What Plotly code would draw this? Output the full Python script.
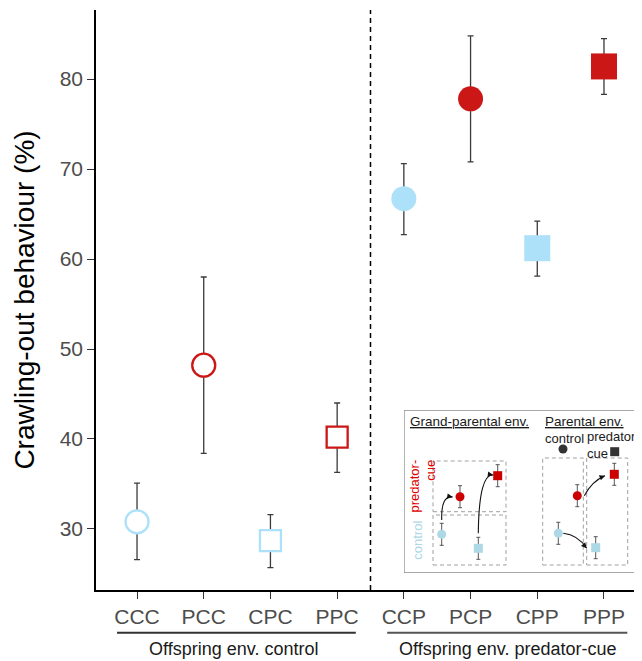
import plotly.graph_objects as go

# ---------------- main data ----------------
categories = ["CCC", "PCC", "CPC", "PPC", "CCP", "PCP", "CPP", "PPP"]
means = [30.8, 48.2, 28.7, 40.2, 66.7, 77.8, 61.2, 81.4]
upper = [35.1, 58.0, 31.6, 44.0, 70.6, 84.8, 64.2, 84.5]
lower = [26.6, 38.4, 25.7, 36.3, 62.7, 70.8, 58.1, 78.3]
symbols = ["circle", "circle", "square", "square", "circle", "circle", "square", "square"]
filled = [False, False, False, False, True, True, True, True]
colours = ["#ADE0F9", "#CC1717", "#ADE0F9", "#CC1717", "#ADE0F9", "#CC1717", "#ADE0F9", "#CC1717"]
y_ticks = [30, 40, 50, 60, 70, 80]
group_labels = ["Offspring env. control", "Offspring env. predator-cue"]

# ---------------- inset (schematic) data ----------------
inset_gp_x = [37.7, 56.0, 74.3, 93.7]
inset_gp_y = [38.7, 76.3, 24.7, 97.3]
inset_p_x = [154.3, 173.3, 191.7, 210.3]
inset_p_y = [39.7, 77.3, 25.3, 98.7]
inset_err = [11, 11, 11, 11]
inset_symbols = ["circle", "circle", "square", "square"]
inset_colours = ["#ADD8E6", "#CC0000", "#ADD8E6", "#CC0000"]

FONT = "Liberation Sans, Arial, sans-serif"

fig = go.Figure()

xpos = list(range(1, len(categories) + 1))
for i, cat in enumerate(categories):
    if filled[i]:
        size = 25 if symbols[i] == "circle" else 26
        marker = dict(symbol=symbols[i], size=size, color=colours[i], line=dict(width=0))
    else:
        size = 23 if symbols[i] == "circle" else 21
        marker = dict(symbol=symbols[i], size=size, color="white",
                      line=dict(width=2.3, color=colours[i]))
    fig.add_trace(go.Scatter(
        x=[xpos[i]], y=[means[i]], mode="markers", marker=marker,
        error_y=dict(type="data", symmetric=False,
                     array=[upper[i] - means[i]], arrayminus=[means[i] - lower[i]],
                     color="#3a3a3a", thickness=1.3, width=3),
        showlegend=False, hoverinfo="skip", cliponaxis=False,
    ))

# inset traces
for xs, ys in [(inset_gp_x, inset_gp_y), (inset_p_x, inset_p_y)]:
    for j in range(4):
        fig.add_trace(go.Scatter(
            x=[xs[j]], y=[ys[j]], mode="markers", xaxis="x2", yaxis="y2",
            marker=dict(symbol=inset_symbols[j], size=9, color=inset_colours[j], line=dict(width=0)),
            error_y=dict(type="data", array=[inset_err[j]], color="#555555", thickness=1, width=2),
            showlegend=False, hoverinfo="skip",
        ))

# legend key markers in inset
fig.add_trace(go.Scatter(x=[159, 210.7], y=[124, 121.3], mode="markers", xaxis="x2", yaxis="y2",
                         marker=dict(symbol=["circle", "square"], size=9, color="#333333"),
                         showlegend=False, hoverinfo="skip"))

shapes = []
# dashed divider
shapes.append(dict(type="line", xref="x", yref="paper", x0=4.5, x1=4.5, y0=0, y1=1,
                   line=dict(color="black", width=1.5, dash="5px,4px")))
# group underlines
shapes.append(dict(type="line", xref="x", yref="paper", x0=0.7, x1=4.28, y0=-0.0736, y1=-0.0736,
                   line=dict(color="#333333", width=2)))
shapes.append(dict(type="line", xref="x", yref="paper", x0=4.75, x1=8.35, y0=-0.0736, y1=-0.0736,
                   line=dict(color="#555555", width=2)))
# inset frame
shapes.append(dict(type="rect", xref="x2", yref="y2", x0=0, x1=237, y0=0, y1=163,
                   line=dict(color="#8c8c8c", width=1.3), fillcolor="white", layer="below"))
# inset dashed panels
for (x0, x1, y0, y1) in [(29, 102, 61.3, 112), (29, 102, 8, 58), (138.7, 179.3, 8, 115), (182.7, 223.7, 8, 115)]:
    shapes.append(dict(type="rect", xref="x2", yref="y2", x0=x0, x1=x1, y0=y0, y1=y1,
                       line=dict(color="#a0a0a0", width=1, dash="4px,3px"), layer="below"))
# curved arrows
for path in ["M 37.7,53 Q 37,78 48.7,76", "M 74.3,39.7 Q 75,100 89.3,98",
             "M 180.3,77.3 Q 188,92 201,97.3", "M 159.3,39.7 Q 174,38 182.7,24.7"]:
    shapes.append(dict(type="path", xref="x2", yref="y2", path=path,
                       line=dict(color="#111111", width=1.1)))

annotations = []
for (x, y, ax, ay) in [(48.7, 76, 45, 76.6), (89.3, 98, 85, 98.6), (201, 97.3, 197, 95.7), (182.7, 24.7, 179, 29)]:
    annotations.append(dict(x=x, y=y, ax=ax, ay=ay, xref="x2", yref="y2", axref="x2", ayref="y2",
                            text="", showarrow=True, arrowhead=2, arrowsize=1, arrowwidth=1.1,
                            arrowcolor="#111111", standoff=0))
# group labels
for gx, lab in zip([2.45, 6.55], group_labels):
    annotations.append(dict(x=gx, y=-0.1017, xref="x", yref="paper", text=lab, showarrow=False,
                            xanchor="center", yanchor="middle", font=dict(size=18, color="#1a1a1a", family=FONT)))
# inset texts
ins_font = dict(size=13.5, color="#1a1a1a", family=FONT)
annotations += [
    dict(x=4, y=152, xref="x2", yref="y2", text="<u>Grand-parental env.</u>", showarrow=False,
         xanchor="left", yanchor="middle", font=ins_font),
    dict(x=139, y=152, xref="x2", yref="y2", text="<u>Parental env.</u>", showarrow=False,
         xanchor="left", yanchor="middle", font=ins_font),
    dict(x=139, y=135, xref="x2", yref="y2", text="control", showarrow=False,
         xanchor="left", yanchor="middle", font=dict(size=13, color="#1a1a1a", family=FONT)),
    dict(x=181, y=128.5, xref="x2", yref="y2", text="predator-<br>cue", showarrow=False,
         xanchor="left", yanchor="middle", align="left",
         font=dict(size=13, color="#1a1a1a", family=FONT)),
    dict(x=18.5, y=87, xref="x2", yref="y2", text="predator-<br>cue", showarrow=False, textangle=-90,
         align="right", xanchor="center", yanchor="middle",
         font=dict(size=13, color="#DD0000", family=FONT)),
    dict(x=12.7, y=33, xref="x2", yref="y2", text="control", showarrow=False, textangle=-90,
         xanchor="center", yanchor="middle", font=dict(size=13, color="#ADD8E6", family=FONT)),
]

# page body adds an 8px offset, so the figure is 8px smaller and margins shifted
W, H = 634, 653
ML, MR, MT, MB = 88, 0, 2, 71
pw, ph = W - ML - MR, H - MT - MB
PX0, PY1 = 96, 590  # plot-area left / bottom on the page

fig.update_layout(
    width=W, height=H,
    margin=dict(l=ML, r=MR, t=MT, b=MB, pad=0, autoexpand=False),
    paper_bgcolor="white", plot_bgcolor="rgba(0,0,0,0)",
    font=dict(family=FONT),
    shapes=shapes, annotations=annotations,
    xaxis=dict(range=[0.385, 8.57], tickvals=xpos, ticktext=categories, showgrid=False, zeroline=False,
               showline=True, linecolor="black", linewidth=1.5, ticks="outside", ticklen=7,
               tickcolor="#333333", tickwidth=1.2, tickfont=dict(size=21, color="#4d4d4d"),
               mirror=False, fixedrange=True, automargin=False),
    yaxis=dict(range=[23.22, 87.67], tickvals=y_ticks, showgrid=False, zeroline=False,
               showline=True, linecolor="black", linewidth=1.5, ticks="outside", ticklen=7,
               tickcolor="#333333", tickwidth=1.2, tickfont=dict(size=21, color="#4d4d4d"),
               title=dict(text="Crawling-out behaviour (%)", font=dict(size=28, color="black"), standoff=17),
               fixedrange=True, automargin=False),
    xaxis2=dict(domain=[(404 - PX0) / pw, (641 - PX0) / pw], range=[0, 237], visible=False,
                anchor="y2", fixedrange=True),
    yaxis2=dict(domain=[(PY1 - 573) / ph, (PY1 - 410) / ph], range=[0, 163], visible=False,
                anchor="x2", fixedrange=True),
)

fig.write_html("out.html")
